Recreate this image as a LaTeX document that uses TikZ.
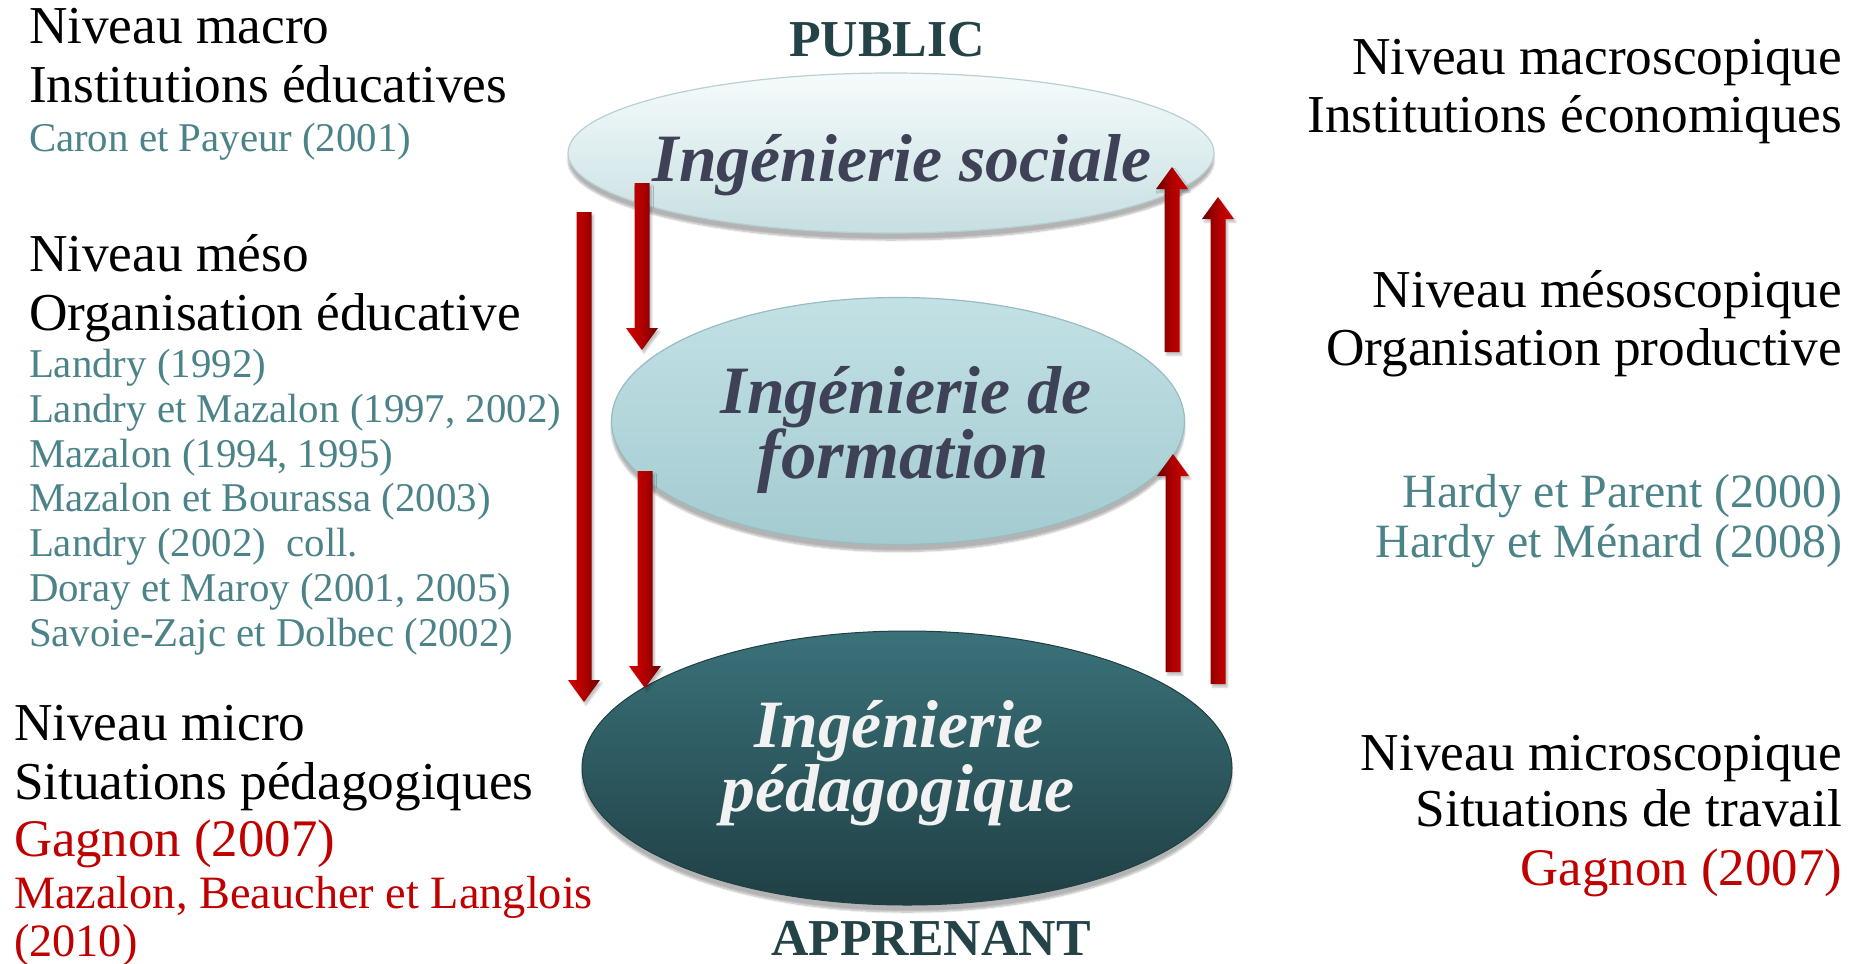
\documentclass[tikz,border=0pt]{standalone}
\usepackage{fontspec}
\setmainfont{Liberation Serif}
\usetikzlibrary{shapes.geometric,shadows.blur,calc}
\definecolor{refteal}{HTML}{4B8389}
\definecolor{refred}{HTML}{C00000}
\definecolor{slate}{HTML}{3F4256}
\definecolor{titleteal}{HTML}{244347}
\definecolor{arrbright}{HTML}{D00000}
\definecolor{arrmid}{HTML}{B00000}
\definecolor{arrdark}{HTML}{6A0000}
\definecolor{eaTop}{HTML}{F6FBFB}
\definecolor{eaBot}{HTML}{C6DFE2}
\definecolor{eaLine}{HTML}{B8D0D4}
\definecolor{ebTop}{HTML}{C2E1E5}
\definecolor{ebBot}{HTML}{A3CBD0}
\definecolor{ebLine}{HTML}{98BCC1}
\definecolor{ecTop}{HTML}{3B727A}
\definecolor{ecBot}{HTML}{1F3F44}
\newcommand\arrdown[2]{%
  \shade[left color=arrbright, right color=arrdark, middle color=arrmid,
         blur shadow={shadow xshift=2bp, shadow yshift=-3bp, shadow blur steps=4, shadow opacity=25}]
  let \p1=(#1), \p2=(#2) in
  (\x1-7.5bp,\y1) -- (\x1+7.5bp,\y1) -- (\x1+7.5bp,\y2+22bp) -- (\x1+16bp,\y2+22bp)
  -- (\x1,\y2) -- (\x1-16bp,\y2+22bp) -- (\x1-7.5bp,\y2+22bp) -- cycle;}
\newcommand\arrup[2]{%
  \shade[left color=arrdark, right color=arrbright, middle color=arrmid,
         blur shadow={shadow xshift=2bp, shadow yshift=-3bp, shadow blur steps=4, shadow opacity=25}]
  let \p1=(#1), \p2=(#2) in
  (\x1-7.5bp,\y1) -- (\x1+7.5bp,\y1) -- (\x1+7.5bp,\y2-22bp) -- (\x1+16bp,\y2-22bp)
  -- (\x1,\y2) -- (\x1-16bp,\y2-22bp) -- (\x1-7.5bp,\y2-22bp) -- cycle;}
\begin{document}
\begin{tikzpicture}[x=1bp,y=-1bp,
  every node/.style={inner sep=0pt, outer sep=0pt},
  lt/.style={anchor=base west},
  rt/.style={anchor=base east},
  head/.style={font=\fontsize{53.5}{60}\selectfont, text=black},
  refL/.style={font=\fontsize{41}{46}\selectfont, text=refteal},
  refR/.style={font=\fontsize{48}{52}\selectfont, text=refteal},
  redbig/.style={font=\fontsize{53}{58}\selectfont, text=refred},
  redsmall/.style={font=\fontsize{46.5}{50}\selectfont, text=refred},
  titletext/.style={anchor=base, font=\bfseries\fontsize{52}{58}\selectfont, text=titleteal},
  elltext/.style={anchor=base, font=\bfseries\itshape\fontsize{68}{64}\selectfont},
  ellbase/.style={ellipse, inner sep=0pt,
     blur shadow={shadow xshift=0bp, shadow yshift=-7bp, shadow blur steps=8, shadow opacity=30}},
  ellA/.style={ellbase, top color=eaTop, bottom color=eaBot, draw=eaLine, line width=1.2bp},
  ellB/.style={ellbase, top color=ebTop, bottom color=ebBot, draw=ebLine, line width=1.2bp},
  ellC/.style={ellbase, top color=ecTop, bottom color=ecBot, draw=ecBot, line width=1bp},
]
\useasboundingbox (0,0) rectangle (1849,963);

% ellipses
\node[ellA, minimum width=646bp, minimum height=160bp] (soc) at (891,153) {};
\node[ellB, minimum width=573bp, minimum height=247bp] (form) at (898,421) {};
\node[ellC, minimum width=650bp, minimum height=274bp] (peda) at (907,768) {};

\node[elltext, text=slate] (socT) at (902,181) {Ingénierie sociale};
\node[elltext, text=slate, text depth=12bp] (formT1) at (906,413) {Ingénierie de};
\node[elltext, text=slate, text height=46bp, font=\bfseries\itshape\fontsize{71}{64}\selectfont] (formT2) at (903,478) {formation};
\node[elltext, text=white!95!black, text depth=12bp] (pedT1) at (899,747) {Ingénierie};
\node[elltext, text=white!95!black, text height=46bp] (pedT2) at (898,811) {pédagogique};

\node[titletext] (pub) at (887,56) {PUBLIC};
\node[titletext] (app) at (931,955) {APPRENANT};

% arrow end points
\coordinate (a1s) at (584,212); \coordinate (a1e) at (584,702);
\coordinate (a2s) at (642,183); \coordinate (a2e) at (642,350);
\coordinate (a3s) at (645,471); \coordinate (a3e) at (645,688);
\coordinate (a4s) at (1172,352); \coordinate (a4e) at (1172,167);
\coordinate (a5s) at (1218,684); \coordinate (a5e) at (1218,197);
\coordinate (a6s) at (1173,672); \coordinate (a6e) at (1173,454);
\arrdown{a1s}{a1e}
\arrdown{a2s}{a2e}
\arrdown{a3s}{a3e}
\arrup{a4s}{a4e}
\arrup{a5s}{a5e}
\arrup{a6s}{a6e}

% left texts
\node[lt, head] (l1) at (29,43) {Niveau macro};
\node[lt, head] (l2) at (29,102) {Institutions éducatives};
\node[lt, refL] (l3) at (29,151) {Caron et Payeur (2001)};
\node[lt, head] (l4) at (29,271) {Niveau méso};
\node[lt, head] (l5) at (29,330) {Organisation éducative};
\node[lt, refL] (l6) at (29,377) {Landry (1992)};
\node[lt, refL] (l7) at (29,422) {Landry et Mazalon (1997, 2002)};
\node[lt, refL] (l8) at (29,467) {Mazalon (1994, 1995)};
\node[lt, refL] (l9) at (29,511) {Mazalon et Bourassa (2003)};
\node[lt, refL] (l10) at (29,556) {Landry (2002)\ \ coll.};
\node[lt, refL] (l11) at (29,601) {Doray et Maroy (2001, 2005)};
\node[lt, refL] (l12) at (29,646) {Savoie-Zajc et Dolbec (2002)};
\node[lt, head] (l13) at (14,740) {Niveau micro};
\node[lt, head] (l14) at (14,799) {Situations pédagogiques};
\node[lt, redbig] (l15) at (14,856) {Gagnon (2007)};
\node[lt, redsmall] (l16) at (14,908) {Mazalon, Beaucher et Langlois};
\node[lt, redsmall] (l17) at (14,956) {(2010)};

% right texts
\node[rt, head] (r1) at (1842,74) {Niveau macroscopique};
\node[rt, head] (r2) at (1842,132) {Institutions économiques};
\node[rt, head] (r3) at (1842,307) {Niveau mésoscopique};
\node[rt, head] (r4) at (1842,365) {Organisation productive};
\node[rt, refR] (r5) at (1842,507) {Hardy et Parent (2000)};
\node[rt, refR] (r6) at (1842,557) {Hardy et Ménard (2008)};
\node[rt, head] (r7) at (1842,770) {Niveau microscopique};
\node[rt, head] (r8) at (1842,826) {Situations de travail};
\node[rt, redbig] (r9) at (1842,885) {Gagnon (2007)};
\end{tikzpicture}
\end{document}
